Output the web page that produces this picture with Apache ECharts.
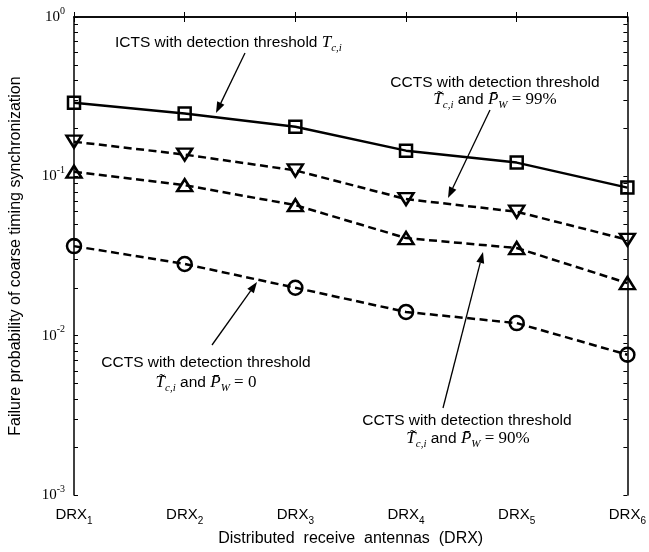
<!DOCTYPE html>
<html>
<head>
<meta charset="utf-8">
<script src="https://cdn.jsdelivr.net/npm/echarts@6/dist/echarts.min.js"></script>
<style>
    html, body { margin: 0; padding: 0; background: #fff; }
    #main { width: 649px; height: 552px; }
</style>
</head>
<body>
<div id="main"></div>
<script>
// data
var drxIndex = ['1', '2', '3', '4', '5', '6'];
var ictsT = [0.29, 0.248, 0.205, 0.145, 0.122, 0.085];
var cctsPw99 = [0.165, 0.137, 0.109, 0.072, 0.060, 0.040];
var cctsPw90 = [0.107, 0.088, 0.066, 0.041, 0.0355, 0.0214];
var cctsPw0 = [0.0365, 0.0282, 0.020, 0.0141, 0.012, 0.0076];
var decades = [-3, -2, -1, 0];
var minorMantissa = [2, 3, 4, 5, 6, 7, 8, 9];

(function () {
    var chart = echarts.init(document.getElementById('main'), null, {renderer: 'canvas'});
    var sans = 'Liberation Sans, Arial, sans-serif';
    var serif = 'Liberation Serif, Times New Roman, serif';

    // tick positions (log10 space) for the MATLAB style minor ticks
    var logTicks = [];
    decades.forEach(function (e) {
        logTicks.push(e);
        if (e < 0) {
            minorMantissa.forEach(function (m) {
                logTicks.push(e + Math.log10(m));
            });
        }
    });

    var arrow = function (x1, y1, x2, y2) {
        var a = Math.atan2(y2 - y1, x2 - x1), L = 11, W = 4;
        var bx = x2 - L * Math.cos(a), by = y2 - L * Math.sin(a);
        var px = -Math.sin(a) * W, py = Math.cos(a) * W;
        return [{
            type: 'line',
            shape: {x1: x1, y1: y1, x2: bx, y2: by},
            style: {stroke: '#000', lineWidth: 1.3}
        }, {
            type: 'polygon',
            shape: {points: [[x2, y2], [bx + px, by + py], [bx - px, by - py]]},
            style: {fill: '#000'}
        }];
    };

    var mathRich = {
        t: {fontFamily: sans, fontSize: 15.5, lineHeight: 22, verticalAlign: 'middle'},
        m: {fontFamily: serif, fontStyle: 'italic', fontSize: 17, lineHeight: 22, verticalAlign: 'middle'},
        s: {fontFamily: serif, fontStyle: 'italic', fontSize: 11, lineHeight: 12, verticalAlign: 'bottom'},
        r: {fontFamily: serif, fontSize: 17, lineHeight: 22, verticalAlign: 'middle'}
    };

    var label = function (x, y, text, align) {
        return {
            type: 'text',
            x: x,
            y: y,
            style: {
                text: text,
                rich: mathRich,
                align: align || 'center',
                verticalAlign: 'middle',
                fill: '#000'
            }
        };
    };

    var mathLine = function (pw) {
        return '{m|T\u0303}{s|c,i}{t| and }{m|P\u0304}{s|W}{r| = ' + pw + '}';
    };

    var graphics = []
        .concat(arrow(245, 53, 216, 113))
        .concat(arrow(490, 110, 448, 198))
        .concat(arrow(212, 345, 257, 282))
        .concat(arrow(443, 408, 483, 252));
    graphics.push(label(115, 43, '{t|ICTS with detection threshold }{m|T}{s|c,i}', 'left'));
    graphics.push(label(495, 83, '{t|CCTS with detection threshold}'));
    graphics.push(label(495, 100, mathLine('99%')));
    graphics.push(label(206, 363, '{t|CCTS with detection threshold}'));
    graphics.push(label(206, 383, mathLine('0')));
    graphics.push(label(467, 421, '{t|CCTS with detection threshold}'));
    graphics.push(label(468, 439, mathLine('90%')));

    var lineSeries = function (name, data, symbol, size, rotate, dashed) {
        return {
            name: name,
            type: 'line',
            data: data,
            symbol: symbol,
            symbolSize: size,
            symbolRotate: rotate,
            showSymbol: true,
            silent: true,
            lineStyle: {color: '#000', width: 2.5, type: dashed ? [8, 4.5] : 'solid'},
            itemStyle: {color: 'rgba(0,0,0,0)', borderColor: '#000', borderWidth: 2.5}
        };
    };

    var axisLineStyle = {color: '#000', width: 1.5};

    var option = {
        animation: false,
        backgroundColor: '#fff',
        grid: {left: 71, right: 21, top: 17, bottom: 55},
        xAxis: [{
            type: 'category',
            position: 'bottom',
            data: drxIndex,
            boundaryGap: false,
            axisLine: {lineStyle: axisLineStyle},
            axisTick: {inside: true, length: 5, lineStyle: {color: '#000'}},
            axisLabel: {
                margin: 12,
                color: '#000',
                fontFamily: sans,
                fontSize: 15,
                formatter: function (v) {
                    return 'DRX{s|' + v + '}';
                },
                rich: {
                    s: {fontFamily: sans, fontSize: 10, verticalAlign: 'bottom', lineHeight: 12, padding: [0, 0, -4, 0]}
                }
            },
            splitLine: {show: false},
            name: 'Distributed  receive  antennas  (DRX)',
            nameLocation: 'middle',
            nameGap: 33,
            nameTextStyle: {color: '#000', fontFamily: sans, fontSize: 16}
        }, {
            type: 'category',
            position: 'top',
            data: drxIndex,
            boundaryGap: false,
            axisLine: {lineStyle: axisLineStyle},
            axisTick: {inside: true, length: 5, lineStyle: {color: '#000'}},
            axisLabel: {show: false},
            splitLine: {show: false}
        }],
        yAxis: [{
            type: 'log',
            logBase: 10,
            min: 0.001,
            max: 1,
            position: 'left',
            axisLine: {show: true, lineStyle: axisLineStyle},
            axisTick: {show: false},
            axisLabel: {
                margin: 9,
                color: '#000',
                formatter: function (v) {
                    return '{b|10}{e|' + Math.round(Math.log10(v)) + '}';
                },
                rich: {
                    b: {fontFamily: serif, fontSize: 15, lineHeight: 22, verticalAlign: 'middle', color: '#000'},
                    e: {fontFamily: serif, fontSize: 10, lineHeight: 12, verticalAlign: 'top', color: '#000'}
                }
            },
            splitLine: {show: false},
            name: 'Failure probability of coarse timing synchronization',
            nameLocation: 'middle',
            nameGap: 50,
            nameTextStyle: {color: '#000', fontFamily: sans, fontSize: 16}
        }, {
            type: 'value',
            min: -3,
            max: 0,
            position: 'left',
            axisLine: {show: false},
            axisTick: {show: true, inside: true, length: 4, customValues: logTicks, lineStyle: {color: '#000'}},
            axisLabel: {show: false},
            splitLine: {show: false}
        }, {
            type: 'value',
            min: -3,
            max: 0,
            position: 'right',
            axisLine: {show: true, lineStyle: axisLineStyle},
            axisTick: {show: true, inside: true, length: 4, customValues: logTicks, lineStyle: {color: '#000'}},
            axisLabel: {show: false},
            splitLine: {show: false}
        }],
        series: [
            lineSeries('ICTS', ictsT, 'rect', 12, 0, false),
            lineSeries('CCTS 99%', cctsPw99, 'triangle', [15, 12], 180, true),
            lineSeries('CCTS 90%', cctsPw90, 'triangle', [15, 12], 0, true),
            lineSeries('CCTS 0', cctsPw0, 'circle', 14, 0, true)
        ],
        graphic: graphics
    };
    chart.setOption(option);
}());
</script>
</body>
</html>
